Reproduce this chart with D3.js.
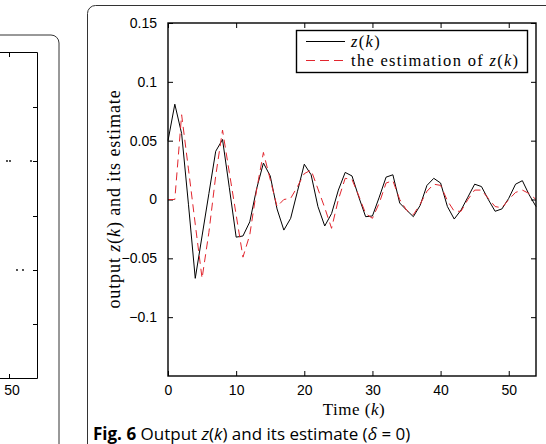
<!DOCTYPE html>
<html>
<head>
<meta charset="utf-8">
<script src="https://cdn.jsdelivr.net/npm/d3@7"></script>
<style>
  body { margin: 0; background: #fff; }
  svg { display: block; }
</style>
</head>
<body>
<div id="chart"></div>
<script>
// output z(k), k = 0..54
var zOut = [0.050, 0.081, 0.056, -0.004, -0.067, -0.031, 0.005, 0.041, 0.051, 0.010,
    -0.032, -0.031, -0.019, 0.009, 0.031, 0.020, -0.008, -0.026, -0.016, 0.007,
    0.030, 0.021, -0.006, -0.0225, -0.012, 0.008, 0.023, 0.020, 0.002, -0.0146,
    -0.014, 0.002, 0.019, 0.021, -0.003, -0.009, -0.0146, -0.005, 0.012, 0.018,
    0.014, -0.006, -0.0166, -0.009, 0.002, 0.013, 0.011, 0.000, -0.010, -0.008,
    0.001, 0.013, 0.016, 0.004, -0.006];
// estimate of z(k)
var zEst = [0.000, 0.000, 0.072, 0.026, -0.021, -0.067, -0.028, 0.020, 0.059, 0.023,
    -0.013, -0.049, -0.030, 0.008, 0.040, 0.017, -0.006, 0.000, 0.001, 0.011,
    0.022, 0.025, 0.009, -0.007, -0.0245, 0.000, 0.018, 0.017, 0.003, -0.012,
    -0.016, -0.003, 0.014, 0.016, 0.000, -0.009, -0.013, -0.004, 0.007, 0.013,
    0.012, -0.001, -0.010, -0.010, 0.000, 0.008, 0.008, 0.001, -0.006, -0.007,
    0.000, 0.006, 0.008, 0.005, 0.000];
var xTicks = [0, 10, 20, 30, 40, 50];
var yTicks = [-0.1, -0.05, 0, 0.05, 0.1, 0.15];
// stray marks of the neighbouring (cut off) figure
var leftDots = [[7, 161], [10, 161], [31, 161], [17, 270], [23, 270]];

var W = 546, H = 444;
var svg = d3.select("#chart").append("svg")
    .attr("width", W).attr("height", H);

var serif = "'Liberation Serif', 'DejaVu Serif', serif";
var sans = "'Liberation Sans', Arial, sans-serif";
var red = "#e2262e";

// panel frames
svg.append("rect")
    .attr("x", -40).attr("y", 35).attr("width", 99).attr("height", 460)
    .attr("rx", 8).attr("fill", "none").attr("stroke", "#333").attr("stroke-width", 1);
svg.append("rect")
    .attr("x", 87.5).attr("y", 5.5).attr("width", 500).attr("height", 500)
    .attr("rx", 8).attr("fill", "none").attr("stroke", "#333").attr("stroke-width", 1);

// left (cut off) panel: only the right part of its axes box
var lp = svg.append("g");
lp.append("path")
    .attr("d", "M-5,52.5H37.5V378.5H-5")
    .attr("fill", "none").attr("stroke", "#000").attr("stroke-width", 1);
[107, 161, 216, 270, 324].forEach(function (ty) {
    lp.append("line").attr("x1", 33).attr("x2", 37).attr("y1", ty + 0.5).attr("y2", ty + 0.5)
        .attr("stroke", "#000");
});
lp.append("line").attr("x1", 9.5).attr("x2", 9.5).attr("y1", 52).attr("y2", 57).attr("stroke", "#000");
lp.append("line").attr("x1", 9.5).attr("x2", 9.5).attr("y1", 374).attr("y2", 378).attr("stroke", "#000");
lp.append("text").attr("x", 12).attr("y", 395).attr("text-anchor", "middle")
    .style("font-family", sans).style("font-size", "14px").text("50");
lp.selectAll("circle").data(leftDots).enter().append("circle")
    .attr("cx", function (d) { return d[0]; })
    .attr("cy", function (d) { return d[1]; })
    .attr("r", 0.9).attr("fill", "#000");

// main axes
var x = d3.scaleLinear().domain([0, 54]).range([168, 536]);
var y = d3.scaleLinear().domain([-0.15, 0.15]).range([376, 23]);

var g = svg.append("g");

function styleAxis(sel) {
    sel.select(".domain").remove();
    sel.selectAll(".tick line").attr("stroke", "#000");
    sel.selectAll(".tick text")
        .style("font-family", sans).style("font-size", "14px").attr("fill", "#000");
}

g.append("g").attr("transform", "translate(" + x(0) + ",0)")
    .call(d3.axisLeft(y).tickValues(yTicks).tickSize(-5).tickPadding(11)
        .tickFormat(function (d) { return d === 0 ? "0" : String(+d.toFixed(2)).replace("-", "\u2212"); }))
    .call(styleAxis);
g.append("g").attr("transform", "translate(" + x(54) + ",0)")
    .call(d3.axisRight(y).tickValues(yTicks).tickSize(-5).tickFormat(""))
    .call(styleAxis);
g.append("g").attr("transform", "translate(0," + y(-0.15) + ")")
    .call(d3.axisBottom(x).tickValues(xTicks).tickSize(-5).tickPadding(9))
    .call(styleAxis);
g.append("g").attr("transform", "translate(0," + y(0.15) + ")")
    .call(d3.axisTop(x).tickValues(xTicks).tickSize(-5).tickFormat(""))
    .call(styleAxis);

// data lines
var line = d3.line()
    .x(function (d, i) { return x(i); })
    .y(function (d) { return y(d); });

g.append("path").datum(zOut)
    .attr("d", line).attr("fill", "none")
    .attr("stroke", "#000").attr("stroke-width", 1);
g.append("path").datum(zEst)
    .attr("d", line).attr("fill", "none")
    .attr("stroke", red).attr("stroke-width", 1)
    .attr("stroke-dasharray", "8,5");

// axes box
g.append("rect")
    .attr("x", x(0)).attr("y", y(0.15))
    .attr("width", x(54) - x(0)).attr("height", y(-0.15) - y(0.15))
    .attr("fill", "none").attr("stroke", "#000").attr("stroke-width", 1.4);

// legend
var lg = g.append("g");
lg.append("rect").attr("x", 296.5).attr("y", 30.5).attr("width", 231).attr("height", 42)
    .attr("fill", "#fff").attr("stroke", "#000").attr("stroke-width", 1.4);
lg.append("line").attr("x1", 306).attr("x2", 345).attr("y1", 41.5).attr("y2", 41.5)
    .attr("stroke", "#000");
lg.append("line").attr("x1", 306).attr("x2", 345).attr("y1", 60.5).attr("y2", 60.5)
    .attr("stroke", red).attr("stroke-dasharray", "9,5");

function mathText(sel, before, after) {
    if (before) sel.append("tspan").text(before);
    sel.append("tspan").style("font-style", "italic").text("z");
    sel.append("tspan").text("(");
    sel.append("tspan").style("font-style", "italic").text("k");
    sel.append("tspan").text(")");
    if (after) sel.append("tspan").text(after);
}

var t1 = lg.append("text").attr("x", 351).attr("y", 46.5)
    .style("font-family", serif).style("font-size", "16.5px").style("letter-spacing", "1.3px");
mathText(t1, "", "");
var t2 = lg.append("text").attr("x", 351).attr("y", 65.5)
    .style("font-family", serif).style("font-size", "16.5px").style("letter-spacing", "1.3px");
mathText(t2, "the estimation of ", "");

// axis labels
var yl = g.append("text")
    .attr("transform", "translate(120,199) rotate(-90)")
    .attr("text-anchor", "middle")
    .style("font-family", serif).style("font-size", "18px").style("letter-spacing", "0.9px");
mathText(yl, "output ", " and its estimate");

var xl = g.append("text").attr("x", 354).attr("y", 415)
    .attr("text-anchor", "middle")
    .style("font-family", serif).style("font-size", "17px").style("letter-spacing", "0.5px");
xl.append("tspan").text("Time (");
xl.append("tspan").style("font-style", "italic").text("k");
xl.append("tspan").text(")");

// caption
var cap = svg.append("text").attr("x", 93).attr("y", 440)
    .style("font-family", "'Open Sans', 'Noto Sans', sans-serif").style("font-size", "17px");
cap.append("tspan").style("font-weight", "bold").text("Fig. 6");
cap.append("tspan").text(" Output ");
cap.append("tspan").style("font-style", "italic").text("z");
cap.append("tspan").text("(");
cap.append("tspan").style("font-style", "italic").text("k");
cap.append("tspan").text(") and its estimate (");
cap.append("tspan").style("font-style", "italic").text("\u03b4");
cap.append("tspan").text(" = 0)");
</script>
</body>
</html>
